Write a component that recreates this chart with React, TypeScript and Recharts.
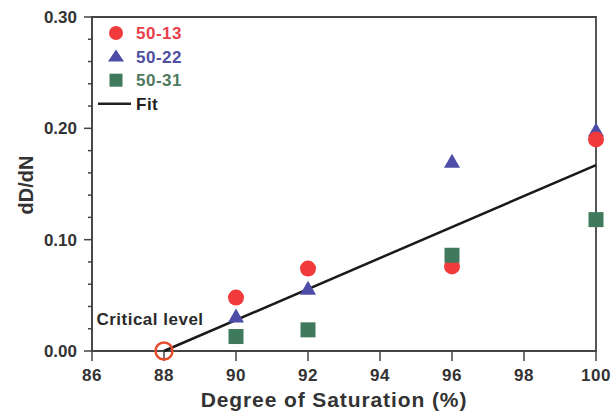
import React from 'react'
import {
  ComposedChart, Scatter, XAxis, YAxis, ReferenceArea, Legend,
} from 'recharts'

// degree of saturation (%) for the three test series
const satX = [90, 92, 96, 100]
const s13 = [0.048, 0.074, 0.076, 0.19]
const s22 = [0.031, 0.056, 0.17, 0.198]
const s31 = [0.013, 0.019, 0.086, 0.118]

// linear fit through the critical level
const fitX = [88, 100]
const fitY = [0, 0.167]
const criticalX = [88]
const criticalY = [0]

const xTicks = [86, 88, 90, 92, 94, 96, 98, 100]
const yTicks = [0, 0.02, 0.04, 0.06, 0.08, 0.1, 0.12, 0.14, 0.16, 0.18, 0.2, 0.22, 0.24, 0.26, 0.28, 0.3]

const RED = '#f03a3c'
const BLUE = '#4d4ca6'
const GREEN = '#3e7a5b'
const AXIS = '#444'
const FONT = '"Liberation Sans", Arial, sans-serif'

const toPts = (xs: number[], ys: number[]) => xs.map((x, i) => ({ x, y: ys[i] }))

const d13 = toPts(satX, s13)
const d22 = toPts(satX, s22)
const d31 = toPts(satX, s31)
const fitPts = toPts(fitX, fitY)
const critPts = toPts(criticalX, criticalY)

/* ── marker shapes ── */
const Dot = (props: any) => <circle cx={props.cx} cy={props.cy} r={8} fill={RED} />
const Tri = (props: any) => {
  const { cx, cy } = props
  return <path d={`M${cx},${cy - 8} L${cx + 8},${cy + 6} L${cx - 8},${cy + 6} Z`} fill={BLUE} />
}
const Sq = (props: any) => <rect x={props.cx - 7.5} y={props.cy - 7.5} width={15} height={15} fill={GREEN} />
const Nothing = () => <g />
const Critical = (props: any) => {
  const { cx, cy } = props
  return (
    <g>
      <circle cx={cx} cy={cy} r={8.5} fill="none" stroke="#e64b2a" strokeWidth={2.5} />
      <text x={cx - 14} y={cy - 26} textAnchor="middle" fontFamily={FONT} fontWeight="bold"
        fontSize={17} letterSpacing={0.5} fill="#2a2a2a">Critical level</text>
    </g>
  )
}

/* ── y ticks: labelled majors, short minors ── */
const YTick = (props: any) => {
  const { x, y, payload } = props
  const v = payload.value
  const major = Math.round(v * 100) % 10 === 0
  return (
    <g>
      <line x1={major ? x + 7 : x + 11} x2={x + 15} y1={y} y2={y} stroke={AXIS} strokeWidth={1.5} />
      {major && (
        <text x={x} y={y} dy="0.36em" textAnchor="end" fontFamily={FONT} fontWeight="bold"
          fontSize={17} fill="#333">{v.toFixed(2)}</text>
      )}
    </g>
  )
}

const legendRows = [
  { label: '50-13', color: '#e8414a', kind: 'circle' },
  { label: '50-22', color: '#4f4f9f', kind: 'tri' },
  { label: '50-31', color: '#4f7a5f', kind: 'square' },
  { label: 'Fit', color: '#222', kind: 'line' },
]

const renderLegend = () => (
  <svg width={110} height={96}>
    {legendRows.map((r, i) => {
      const cy = 13 + i * 23.6
      return (
        <g key={r.label}>
          {r.kind === 'circle' && <circle cx={18} cy={cy} r={7} fill={RED} />}
          {r.kind === 'tri' && <path d={`M18,${cy - 7} L26,${cy + 5} L10,${cy + 5} Z`} fill={BLUE} />}
          {r.kind === 'square' && <rect x={11.5} y={cy - 6.5} width={13} height={13} fill={GREEN} />}
          {r.kind === 'line' && <line x1={0} x2={33} y1={cy} y2={cy} stroke="#222" strokeWidth={2.5} />}
          <text x={38} y={cy} dy="0.36em" fontFamily={FONT} fontWeight="bold" fontSize={17}
            letterSpacing={0.5} fill={r.color}>{r.label}</text>
        </g>
      )
    })}
  </svg>
)

export default function App() {
  return (
    <div style={{ position: 'absolute', left: 0, top: 0, background: '#fff' }}>
      <ComposedChart width={613} height={414} margin={{ top: 17, right: 17, bottom: 0, left: 0 }}>
        <XAxis type="number" dataKey="x" domain={[86, 100]} ticks={xTicks} interval={0}
          height={63} tickSize={10} tickMargin={8} stroke={AXIS} strokeWidth={1.5}
          tick={{ fontSize: 17, fontWeight: 'bold', fill: '#333', fontFamily: FONT, letterSpacing: 0.5 }}
          label={{
            value: 'Degree of Saturation (%)', position: 'insideBottom', offset: 7, dx: -10,
            style: { fontSize: 21, fontWeight: 'bold', fill: '#333', fontFamily: FONT, letterSpacing: 0.9 },
          }} />
        <YAxis type="number" dataKey="y" domain={[0, 0.3]} ticks={yTicks} interval={0}
          width={92} tickSize={8} tickMargin={7} tickLine={false} stroke={AXIS} strokeWidth={1.5}
          tick={<YTick />}
          label={{
            content: (p: any) => {
              const vb = p.viewBox
              const cx = vb.x + 26
              const cy = vb.y + vb.height / 2 + 1
              return (
                <text x={cx} y={cy} transform={`rotate(-90 ${cx} ${cy})`} textAnchor="middle" dy="0.36em"
                  fontFamily={FONT} fontWeight="bold" fontSize={20} fill="#333">dD/dN</text>
              )
            },
          }} />
        <ReferenceArea x1={86} x2={100} y1={0} y2={0.3} fill="none" stroke={AXIS} strokeWidth={1.8} />
        <Legend content={renderLegend} layout="vertical" verticalAlign="middle" align="center"
          wrapperStyle={{ left: 98, top: 20, width: 110 }} />
        <Scatter name="Fit" data={fitPts} line={{ stroke: '#1a1a1a', strokeWidth: 2.5 }}
          shape={<Nothing />} isAnimationActive={false} />
        <Scatter name="critical" data={critPts} shape={<Critical />} isAnimationActive={false} />
        <Scatter name="50-22" data={d22} shape={<Tri />} isAnimationActive={false} />
        <Scatter name="50-13" data={d13} shape={<Dot />} isAnimationActive={false} />
        <Scatter name="50-31" data={d31} shape={<Sq />} isAnimationActive={false} />
      </ComposedChart>
    </div>
  )
}
